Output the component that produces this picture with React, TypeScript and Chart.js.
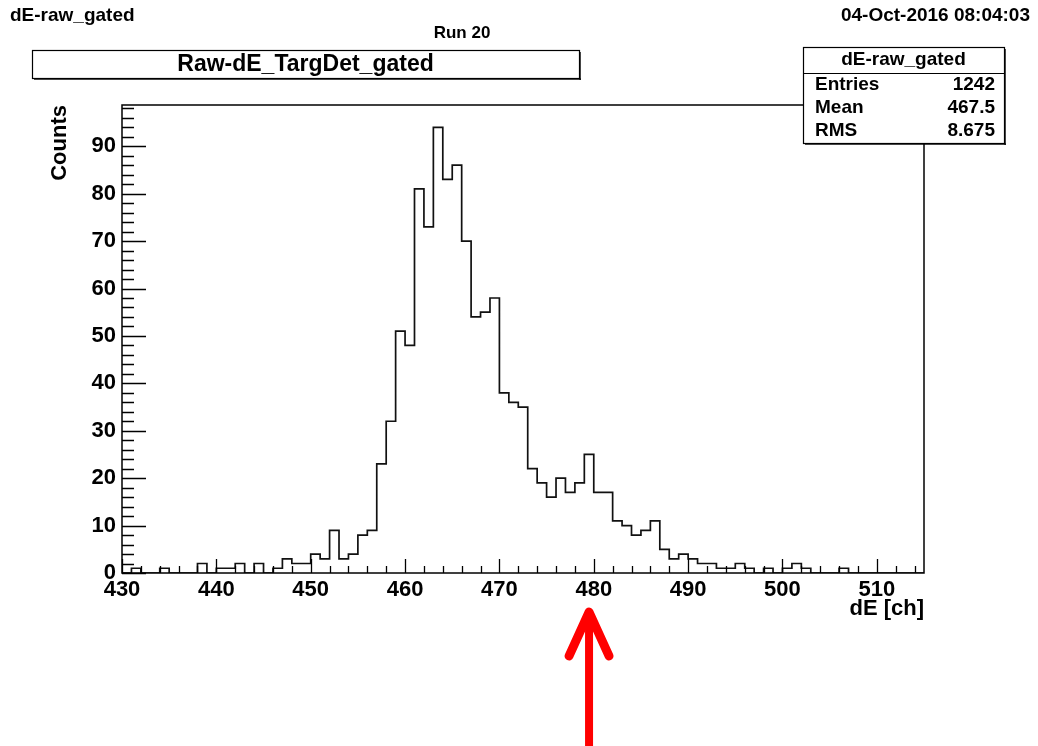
import React, { useEffect, useRef } from 'react';
import { Chart, registerables } from 'chart.js';

Chart.register(...registerables);

// ---- data ----
const BIN_LOW = 430;
const BIN_WIDTH = 1;
const COUNTS: number[] = [
  0, 1, 0, 0, 1, 0, 0, 0, 2, 0, // 430-439
  1, 1, 2, 0, 2, 0, 1, 3, 2, 2, // 440-449
  4, 3, 9, 3, 4, 8, 9, 23, 32, 51, // 450-459
  48, 81, 73, 94, 83, 86, 70, 54, 55, 58, // 460-469
  38, 36, 35, 22, 19, 16, 20, 17, 19, 25, // 470-479
  17, 17, 11, 10, 8, 9, 11, 5, 3, 4, // 480-489
  3, 2, 2, 1, 1, 2, 1, 0, 1, 0, // 490-499
  1, 2, 1, 0, 0, 0, 1, 0, 0, 0, // 500-509
  0, 0, 0, 0, 0, // 510-514
];
const X_MIN = 430;
const X_MAX = 515;
const Y_MIN = 0;
const Y_MAX = 98.7;
const X_MAJOR_STEP = 10;
const X_MINOR_STEP = 2;
const Y_MAJOR_STEP = 10;
const Y_MINOR_STEP = 2;
const ARROW_VALUE = 479.5;

const CANVAS_TITLE = 'dE-raw_gated';
const DATE_TEXT = '04-Oct-2016 08:04:03';
const RUN_TEXT = 'Run 20';
const HIST_TITLE = 'Raw-dE_TargDet_gated';
const STATS_NAME = 'dE-raw_gated';
const STATS_LABELS = ['Entries', 'Mean', 'RMS'];
const STATS_VALUES = ['1242', '467.5', '8.675'];
const X_TITLE = 'dE [ch]';
const Y_TITLE = 'Counts';

const FONT_FAMILY = '"Liberation Sans", Arial, Helvetica, sans-serif';

const W = 1038;
const H = 746;

function buildPoints() {
  const pts: { x: number; y: number }[] = COUNTS.map((c, i) => ({
    x: BIN_LOW + i * BIN_WIDTH,
    y: c,
  }));
  pts.push({ x: BIN_LOW + COUNTS.length * BIN_WIDTH, y: COUNTS[COUNTS.length - 1] });
  return pts;
}

const overlayPlugin = {
  id: 'rootOverlay',
  afterDraw(chart: any) {
    const ctx: CanvasRenderingContext2D = chart.ctx;
    const area = chart.chartArea;
    const xs = chart.scales.x;
    const ys = chart.scales.y;
    ctx.save();

    // frame
    ctx.strokeStyle = '#000';
    ctx.lineWidth = 1.5;
    ctx.strokeRect(area.left, area.top, area.right - area.left, area.bottom - area.top);

    // inward ticks on x axis
    ctx.lineWidth = 1.3;
    ctx.beginPath();
    for (let v = X_MIN; v <= X_MAX + 1e-9; v += X_MINOR_STEP) {
      const px = Math.round(xs.getPixelForValue(v)) + 0.5;
      const major = Math.abs(((v - X_MIN) % X_MAJOR_STEP)) < 1e-9;
      const len = major ? 14 : 7;
      ctx.moveTo(px, area.bottom);
      ctx.lineTo(px, area.bottom - len);
    }
    // inward ticks on y axis
    for (let v = Y_MIN; v <= Y_MAX + 1e-9; v += Y_MINOR_STEP) {
      const py = Math.round(ys.getPixelForValue(v)) + 0.5;
      const major = Math.abs(v % Y_MAJOR_STEP) < 1e-9;
      const len = major ? 24 : 12;
      ctx.moveTo(area.left, py);
      ctx.lineTo(area.left + len, py);
    }
    ctx.stroke();

    // top texts
    ctx.fillStyle = '#000';
    ctx.textBaseline = 'middle';
    ctx.font = `bold 19px ${FONT_FAMILY}`;
    ctx.textAlign = 'left';
    ctx.fillText(CANVAS_TITLE, 10, 16);
    ctx.textAlign = 'right';
    ctx.fillText(DATE_TEXT, 1030, 16);
    ctx.font = `bold 17px ${FONT_FAMILY}`;
    ctx.textAlign = 'center';
    ctx.fillText(RUN_TEXT, 462, 33);

    // title box
    const tb = { x: 32, y: 50, w: 547, h: 28 };
    ctx.fillStyle = '#fff';
    ctx.fillRect(tb.x, tb.y, tb.w, tb.h);
    ctx.strokeStyle = '#000';
    ctx.lineWidth = 1.2;
    ctx.strokeRect(tb.x + 0.5, tb.y + 0.5, tb.w, tb.h);
    ctx.fillStyle = '#000';
    ctx.fillRect(tb.x + 2, tb.y + tb.h + 0.5, tb.w, 1.2);
    ctx.fillRect(tb.x + tb.w + 0.5, tb.y + 2, 1.2, tb.h);
    ctx.font = `bold 23px ${FONT_FAMILY}`;
    ctx.textAlign = 'center';
    ctx.fillText(HIST_TITLE, tb.x + tb.w / 2, tb.y + tb.h / 2 + 1);

    // stats box
    const sb = { x: 803, y: 47, w: 201, h: 96 };
    ctx.fillStyle = '#fff';
    ctx.fillRect(sb.x, sb.y, sb.w, sb.h);
    ctx.strokeStyle = '#000';
    ctx.lineWidth = 1.2;
    ctx.strokeRect(sb.x + 0.5, sb.y + 0.5, sb.w, sb.h);
    ctx.fillStyle = '#000';
    ctx.fillRect(sb.x + 2, sb.y + sb.h + 0.5, sb.w, 1.2);
    ctx.fillRect(sb.x + sb.w + 0.5, sb.y + 2, 1.2, sb.h);
    ctx.beginPath();
    ctx.moveTo(sb.x, 73.5);
    ctx.lineTo(sb.x + sb.w, 73.5);
    ctx.stroke();
    ctx.font = `bold 19px ${FONT_FAMILY}`;
    ctx.textAlign = 'center';
    ctx.fillText(STATS_NAME, sb.x + sb.w / 2, 60);
    const rowY = [85, 108, 131];
    STATS_LABELS.forEach((lab, i) => {
      ctx.textAlign = 'left';
      ctx.fillText(lab, sb.x + 12, rowY[i]);
      ctx.textAlign = 'right';
      ctx.fillText(STATS_VALUES[i], sb.x + sb.w - 9, rowY[i]);
    });

    // red arrow
    const ax = xs.getPixelForValue(ARROW_VALUE);
    const tipY = 612;
    ctx.strokeStyle = '#ff0000';
    ctx.lineCap = 'round';
    ctx.lineJoin = 'round';
    ctx.lineWidth = 9;
    ctx.beginPath();
    ctx.moveTo(ax - 20, 656);
    ctx.lineTo(ax, tipY);
    ctx.lineTo(ax + 20, 656);
    ctx.stroke();
    ctx.lineCap = 'butt';
    ctx.lineWidth = 8;
    ctx.beginPath();
    ctx.moveTo(ax, tipY + 4);
    ctx.lineTo(ax, H + 2);
    ctx.stroke();

    ctx.restore();
  },
};

export default function App() {
  const ref = useRef<HTMLCanvasElement | null>(null);

  useEffect(() => {
    if (!ref.current) return;
    const chart = new Chart(ref.current, {
      type: 'line',
      data: {
        datasets: [
          {
            data: buildPoints(),
            stepped: 'before',
            borderColor: '#111',
            borderWidth: 1.7,
            pointRadius: 0,
            fill: false,
            tension: 0,
          },
        ],
      },
      options: {
        animation: false,
        responsive: false,
        devicePixelRatio: 1,
        parsing: false,
        layout: { padding: { left: 0, top: 105, right: 114, bottom: 0 } },
        plugins: {
          legend: { display: false },
          tooltip: { enabled: false },
          title: { display: false },
        },
        scales: {
          x: {
            type: 'linear',
            min: X_MIN,
            max: X_MAX,
            afterFit: (s: any) => {
              s.height = 173;
            },
            grid: { display: false, drawTicks: false },
            border: { display: false },
            ticks: {
              stepSize: X_MAJOR_STEP,
              includeBounds: false,
              autoSkip: false,
              maxRotation: 0,
              padding: 4,
              color: '#000',
              font: { family: FONT_FAMILY, size: 22, weight: 'bold' },
            },
            title: {
              display: true,
              text: X_TITLE,
              align: 'end',
              color: '#000',
              font: { family: FONT_FAMILY, size: 22, weight: 'bold' },
              padding: { top: 0, bottom: 124 },
            },
          },
          y: {
            type: 'linear',
            min: Y_MIN,
            max: Y_MAX,
            afterFit: (s: any) => {
              s.width = 122;
            },
            grid: { display: false, drawTicks: false },
            border: { display: false },
            ticks: {
              stepSize: Y_MAJOR_STEP,
              includeBounds: false,
              autoSkip: false,
              padding: 6,
              color: '#000',
              font: { family: FONT_FAMILY, size: 22, weight: 'bold' },
            },
            title: {
              display: true,
              text: Y_TITLE,
              align: 'end',
              color: '#000',
              font: { family: FONT_FAMILY, size: 22, weight: 'bold' },
              padding: { top: 47, bottom: 0 },
            },
          },
        },
      },
      plugins: [overlayPlugin],
    } as any);
    return () => chart.destroy();
  }, []);

  return (
    <div style={{ position: 'fixed', left: 0, top: 0, width: W, height: H, background: '#fff' }}>
      <canvas ref={ref} width={W} height={H} style={{ width: W, height: H, display: 'block' }} />
    </div>
  );
}
